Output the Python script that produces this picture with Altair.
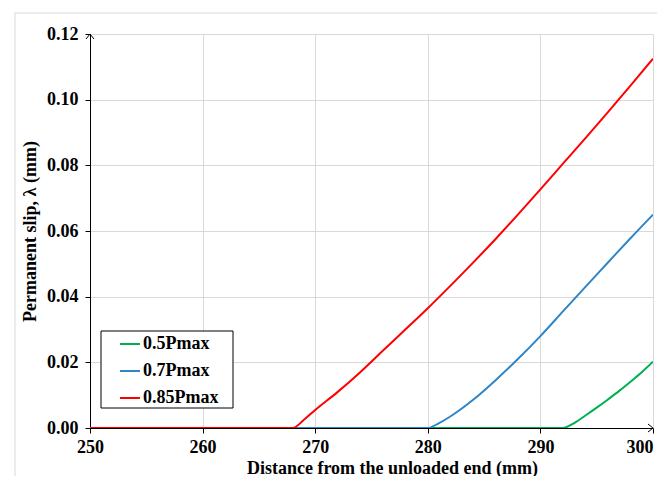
import altair as alt
import pandas as pd

series_names = ["0.5Pmax", "0.7Pmax", "0.85Pmax"]
series_colors = ["#00B050", "#2E86C8", "#FF0000"]

green_x = [250, 292, 293, 294, 295, 296, 297, 298, 299, 300]
green_y = [0, 0, 0.0015, 0.0038, 0.0062, 0.0087, 0.0113, 0.0141, 0.0170, 0.0202]

blue_x = [250, 280, 281, 282, 284, 286, 288, 290, 292, 294, 296, 298, 300]
blue_y = [0, 0, 0.0015, 0.0035, 0.0085, 0.0145, 0.021, 0.028, 0.0355, 0.043, 0.0504, 0.0578, 0.065]

red_x = [250, 268, 269, 270, 272, 274, 276, 278, 280, 282, 284, 286, 288, 290, 292, 294, 296, 298, 300]
red_y = [0, 0, 0.0025, 0.0055, 0.011, 0.017, 0.0235, 0.030, 0.0365, 0.0433, 0.0503, 0.0575, 0.0650,
         0.0727, 0.0805, 0.0883, 0.0962, 0.1043, 0.1125]

x_ticks = [250, 260, 270, 280, 290, 300]
y_ticks = [0, 0.02, 0.04, 0.06, 0.08, 0.10, 0.12]

FONT = "Liberation Serif"
FS = 18
W, H = 563, 394

color_scale = alt.Scale(domain=series_names, range=series_colors)
x_enc = alt.X("x:Q", scale=alt.Scale(domain=[250, 300], nice=False),
              axis=alt.Axis(values=x_ticks, format="d", title="Distance from the unloaded end (mm)",
                            titleX=302, titlePadding=3, labelFlush=False,
                            labelAlign={"expr": "datum.value == 300 ? 'right' : 'center'"}))
y_enc = alt.Y("y:Q", scale=alt.Scale(domain=[0, 0.12], nice=False),
              axis=alt.Axis(values=y_ticks, format=".2f", title="Permanent slip, λ (mm)",
                            titlePadding=7))


def series_layer(xs, ys, name):
    df = pd.DataFrame({"x": xs, "y": ys, "series": name})
    return alt.Chart(df).mark_line(strokeWidth=2, clip=True, interpolate="monotone").encode(
        x=x_enc, y=y_enc,
        color=alt.Color("series:N", scale=color_scale,
                        legend=alt.Legend(title=None, orient="none", legendX=29, legendY=299,
                                          symbolType="stroke", symbolSize=400, symbolStrokeWidth=2,
                                          labelFont=FONT, labelFontSize=FS, labelFontWeight="bold",
                                          labelColor="black", labelOffset=2, rowPadding=7,
                                          padding=0))
    )


one = pd.DataFrame({"a": [0]})

outer = alt.Chart(one).mark_rect(fill=None, stroke="#d9d9d9", strokeWidth=1, clip=False).encode(
    x=alt.value(-75), x2=alt.value(640), y=alt.value(-21), y2=alt.value(500))

legend_box = alt.Chart(one).mark_rect(fill="white", stroke="black", strokeWidth=1).encode(
    x=alt.value(11), x2=alt.value(143), y=alt.value(297), y2=alt.value(374))

arrow_up = alt.Chart(one).mark_point(shape="M-0.8,1L0,0L0.8,1", filled=False, stroke="black",
                                     strokeWidth=1, size=100, opacity=1).encode(
    x=alt.value(0), y=alt.value(0))
arrow_right = alt.Chart(one).mark_point(shape="M-1,-0.8L0,0L-1,0.8", filled=False, stroke="black",
                                        strokeWidth=1, size=100, opacity=1).encode(
    x=alt.value(W), y=alt.value(H))

chart = alt.layer(
    outer,
    series_layer(green_x, green_y, series_names[0]),
    series_layer(blue_x, blue_y, series_names[1]),
    series_layer(red_x, red_y, series_names[2]),
    legend_box,
    arrow_up,
    arrow_right,
).resolve_scale(color="shared").properties(
    width=W, height=H,
    autosize=alt.AutoSizeParams(type="none"),
    padding={"left": 82, "top": 26, "right": 4, "bottom": 48},
    background="white",
).configure_view(stroke=None).configure_axis(
    labelFont=FONT, labelFontSize=FS, labelFontWeight="bold", labelColor="black",
    titleFont=FONT, titleFontSize=FS, titleFontWeight="bold", titleColor="black",
    domainColor="black", domainWidth=1, tickColor="black", tickSize=5, tickWidth=1,
    gridColor="#d9d9d9", gridWidth=1, labelPadding=5,
).configure_axisY(labelPadding=7)

chart.save("out.html", embed_options={"renderer": "svg", "actions": False})
